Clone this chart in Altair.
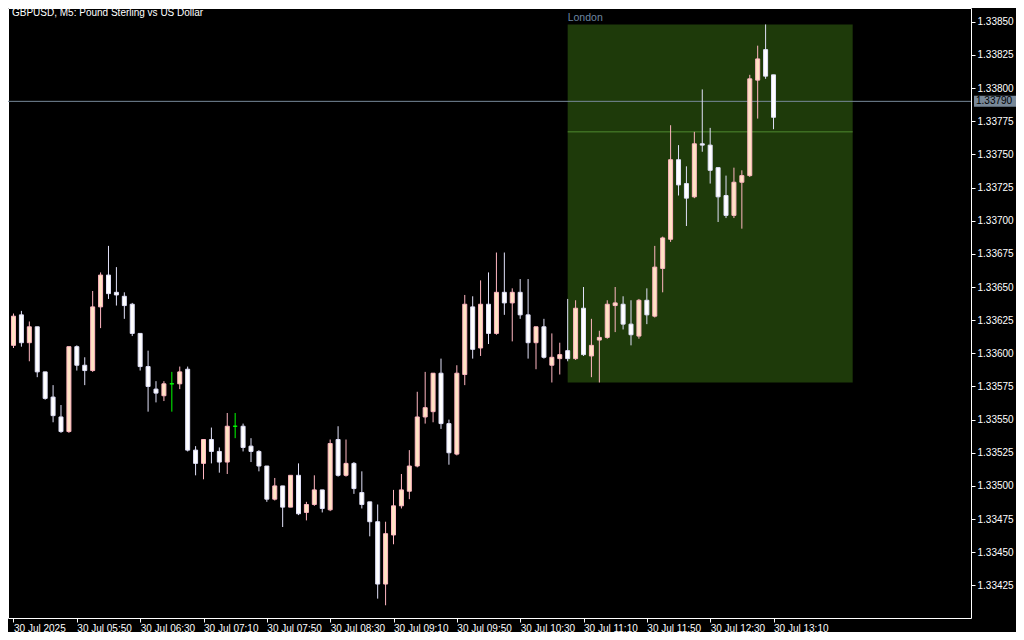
import altair as alt
import pandas as pd

# ---- data (GBPUSD M5, 30 Jul 2025, 05:10 .. 13:10) ----
open_ = [1.33606, 1.33629, 1.33608, 1.33620, 1.33586, 1.33567, 1.33552, 1.33541, 1.33605, 1.33591,
         1.33587, 1.33635, 1.33659, 1.33646, 1.33643, 1.33637, 1.33615, 1.33590, 1.33573, 1.33568,
         1.33577, 1.33577, 1.33588, 1.33527, 1.33517, 1.33535, 1.33526, 1.33518, 1.33545, 1.33545,
         1.33530, 1.33526, 1.33515, 1.33490, 1.33500, 1.33484, 1.33508, 1.33480, 1.33486, 1.33497,
         1.33482, 1.33535, 1.33508, 1.33517, 1.33495, 1.33488, 1.33473, 1.33426, 1.33463, 1.33485,
         1.33496, 1.33515, 1.33552, 1.33556, 1.33585, 1.33547, 1.33524, 1.33584, 1.33635, 1.33604,
         1.33637, 1.33615, 1.33646, 1.33638, 1.33646, 1.33629, 1.33608, 1.33620, 1.33591, 1.33596,
         1.33602, 1.33596, 1.33634, 1.33598, 1.33610, 1.33612, 1.33636, 1.33637, 1.33622, 1.33613,
         1.33640, 1.33628, 1.33664, 1.33686, 1.33746, 1.33728, 1.33718, 1.33758, 1.33757, 1.33740,
         1.33719, 1.33704, 1.33729, 1.33734, 1.33806, 1.33829, 1.33810]
high = [1.33630, 1.33632, 1.33624, 1.33620, 1.33586, 1.33576, 1.33561, 1.33605, 1.33606, 1.33597,
        1.33647, 1.33661, 1.33681, 1.33665, 1.33646, 1.33638, 1.33615, 1.33602, 1.33579, 1.33579,
        1.33586, 1.33590, 1.33590, 1.33530, 1.33535, 1.33544, 1.33529, 1.33555, 1.33555, 1.33547,
        1.33536, 1.33527, 1.33515, 1.33506, 1.33500, 1.33508, 1.33517, 1.33488, 1.33508, 1.33497,
        1.33535, 1.33545, 1.33535, 1.33518, 1.33511, 1.33488, 1.33486, 1.33473, 1.33497, 1.33509,
        1.33527, 1.33571, 1.33586, 1.33585, 1.33596, 1.33550, 1.33591, 1.33644, 1.33643, 1.33655,
        1.33661, 1.33676, 1.33676, 1.33649, 1.33656, 1.33656, 1.33620, 1.33626, 1.33615, 1.33608,
        1.33641, 1.33640, 1.33650, 1.33626, 1.33617, 1.33640, 1.33650, 1.33643, 1.33640, 1.33641,
        1.33649, 1.33681, 1.33688, 1.33772, 1.33757, 1.33741, 1.33767, 1.33799, 1.33770, 1.33740,
        1.33734, 1.33740, 1.33738, 1.33810, 1.33832, 1.33848, 1.33810]
low = [1.33604, 1.33605, 1.33594, 1.33582, 1.33565, 1.33548, 1.33540, 1.33540, 1.33587, 1.33576,
       1.33586, 1.33619, 1.33641, 1.33636, 1.33626, 1.33613, 1.33587, 1.33556, 1.33563, 1.33564,
       1.33556, 1.33573, 1.33526, 1.33508, 1.33505, 1.33517, 1.33510, 1.33509, 1.33536, 1.33526,
       1.33518, 1.33511, 1.33488, 1.33489, 1.33469, 1.33484, 1.33478, 1.33474, 1.33485, 1.33480,
       1.33481, 1.33507, 1.33507, 1.33494, 1.33483, 1.33462, 1.33415, 1.33410, 1.33456, 1.33483,
       1.33490, 1.33514, 1.33547, 1.33548, 1.33543, 1.33516, 1.33523, 1.33576, 1.33596, 1.33598,
       1.33607, 1.33614, 1.33629, 1.33609, 1.33626, 1.33596, 1.33588, 1.33596, 1.33578, 1.33584,
       1.33594, 1.33595, 1.33598, 1.33582, 1.33578, 1.33611, 1.33616, 1.33618, 1.33606, 1.33611,
       1.33622, 1.33627, 1.33646, 1.33684, 1.33719, 1.33696, 1.33717, 1.33752, 1.33728, 1.33699,
       1.33702, 1.33702, 1.33694, 1.33733, 1.33777, 1.33807, 1.33769]
close = [1.33628, 1.33608, 1.33620, 1.33586, 1.33566, 1.33553, 1.33541, 1.33605, 1.33591, 1.33587,
         1.33635, 1.33659, 1.33645, 1.33644, 1.33636, 1.33615, 1.33590, 1.33575, 1.33570, 1.33577,
         1.33577, 1.33586, 1.33527, 1.33517, 1.33535, 1.33526, 1.33518, 1.33545, 1.33545, 1.33529,
         1.33526, 1.33515, 1.33490, 1.33500, 1.33484, 1.33508, 1.33479, 1.33486, 1.33497, 1.33483,
         1.33532, 1.33508, 1.33517, 1.33498, 1.33486, 1.33473, 1.33426, 1.33464, 1.33485, 1.33497,
         1.33515, 1.33552, 1.33559, 1.33585, 1.33547, 1.33525, 1.33585, 1.33637, 1.33603, 1.33637,
         1.33615, 1.33646, 1.33638, 1.33646, 1.33629, 1.33608, 1.33620, 1.33597, 1.33597, 1.33599,
         1.33596, 1.33634, 1.33599, 1.33606, 1.33612, 1.33637, 1.33638, 1.33622, 1.33614, 1.33640,
         1.33629, 1.33665, 1.33687, 1.33746, 1.33727, 1.33717, 1.33758, 1.33757, 1.33738, 1.33718,
         1.33704, 1.33729, 1.33734, 1.33807, 1.33822, 1.33809, 1.33778]

x_tick_pos = [0, 8, 16, 24, 32, 40, 48, 56, 64, 72, 80, 88, 96]
x_tick_labels = ["30 Jul 2025", "30 Jul 05:50", "30 Jul 06:30", "30 Jul 07:10", "30 Jul 07:50",
                 "30 Jul 08:30", "30 Jul 09:10", "30 Jul 09:50", "30 Jul 10:30", "30 Jul 11:10",
                 "30 Jul 11:50", "30 Jul 12:30", "30 Jul 13:10"]
y_ticks = [1.33425, 1.33450, 1.33475, 1.33500, 1.33525, 1.33550, 1.33575, 1.33600, 1.33625,
           1.33650, 1.33675, 1.33700, 1.33725, 1.33750, 1.33775, 1.33800, 1.33825, 1.33850]

title_text = "GBPUSD, M5:  Pound Sterling vs US Dollar"
session_name = "London"
session_start = [70]    # bar index of 11:00
session_end = [106]     # bar index of 14:00
session_line = [1.33767]
price_now = [1.33790]

# ---- build tables ----
n = len(open_)
dirs = []
for o, c in zip(open_, close):
    dirs.append("up" if c > o else ("down" if c < o else "doji"))
df = pd.DataFrame({
    "i": list(range(n)), "open": open_, "high": high, "low": low, "close": close,
    "lo_body": [min(o, c) for o, c in zip(open_, close)],
    "hi_body": [max(o, c) for o, c in zip(open_, close)],
    "dir": dirs,
})
s0 = session_start[0]
sess = df[df["i"] >= s0]
df_box = pd.DataFrame({
    "i0": session_start, "i1": session_end,
    "lo": [sess["low"].min()], "hi": [sess["high"].max()],
    "mid": session_line, "name": [session_name],
})
df_price = pd.DataFrame({"p": price_now})
df_title = pd.DataFrame({"t": [title_text]})

FONT = "Liberation Sans"
FS = 10
W, H = 963, 610
xscale = alt.Scale(domain=[-0.0625, 120.3125], nice=False, zero=False)
yscale = alt.Scale(domain=[1.334004, 1.338604], nice=False, zero=False)

labels_js = "[" + ",".join("'" + s + "'" for s in x_tick_labels) + "]"
pos_js = "[" + ",".join(str(v) for v in x_tick_pos) + "]"

x_axis = alt.Axis(values=x_tick_pos, labelExpr=labels_js + "[indexof(" + pos_js + ", datum.value)]",
                  title=None, grid=False, domain=False, ticks=True, tickSize=4, tickColor="#FFFFFF",
                  labels=True, labelColor="#FFFFFF", labelAlign="left", labelBaseline="top",
                  labelFlush=False, labelPadding=1, labelFont=FONT, labelFontSize=FS,
                  labelOverlap=False)
y_axis = alt.Axis(orient="right", values=y_ticks, format=".5f", title=None, grid=False,
                  domain=False, ticks=True, tickSize=4, tickColor="#FFFFFF", labels=True,
                  labelColor="#FFFFFF", labelPadding=2, labelFont=FONT, labelFontSize=FS,
                  labelOverlap=False, labelFlush=False)


def X(field):
    return alt.X(field, type="quantitative", scale=xscale, axis=x_axis)


def Y(field):
    return alt.Y(field, type="quantitative", scale=yscale, axis=y_axis)


dom = ["up", "down", "doji"]
fill_scale = alt.Scale(domain=dom, range=["#FFE4C4", "#FFFFFF", "#00FF00"])
stroke_scale = alt.Scale(domain=dom, range=["#FFB6C1", "#E0E0F8", "#00FF00"])

box = alt.Chart(df_box).mark_rect(fill="#1E3A0A").encode(
    x=X("i0"), x2="i1:Q", y=Y("lo"), y2="hi:Q")
sess_line = alt.Chart(df_box).mark_rule(color="#4E8A30", strokeWidth=1).encode(
    x=X("i0"), x2="i1:Q", y=Y("mid"))
price_line = alt.Chart(df_price).mark_rule(color="#778899", strokeWidth=1).encode(
    y=Y("p"))

wicks = alt.Chart(df).mark_rule(strokeWidth=1, clip=True).encode(
    x=X("i"), y=Y("low"), y2="high:Q",
    stroke=alt.Stroke("dir:N", scale=stroke_scale, legend=None))
bodies = alt.Chart(df).mark_bar(size=4, strokeWidth=1, clip=True).encode(
    x=X("i"), y=Y("lo_body"), y2="hi_body:Q",
    fill=alt.Fill("dir:N", scale=fill_scale, legend=None),
    stroke=alt.Stroke("dir:N", scale=stroke_scale, legend=None))

sess_label = alt.Chart(df_box).mark_text(align="left", baseline="alphabetic", dy=-3,
                                         color="#6F87A0", font=FONT, fontSize=10.5).encode(
    x=X("i0"), y=Y("hi"), text="name:N")
title = alt.Chart(df_title).mark_text(align="left", baseline="top", color="white",
                                      font=FONT, fontSize=FS).encode(
    x=alt.value(4), y=alt.value(0), text="t:N")
price_tag = alt.Chart(df_price).mark_point(shape="M-1,-0.25H1V0.25H-1Z", size=1936, filled=True,
                                           color="#788898", opacity=1, strokeWidth=0).encode(
    x=alt.value(988), y=Y("p"))
price_text = alt.Chart(df_price).mark_text(align="left", baseline="middle", color="#000000",
                                           font=FONT, fontSize=FS).encode(
    x=alt.value(968), y=Y("p"), text=alt.Text("p:Q", format=".5f"))

chart = alt.layer(box, sess_line, price_line, wicks, bodies, sess_label, title,
                  price_tag, price_text).properties(
    width=W, height=H,
    padding={"left": 0, "top": 0, "right": 45, "bottom": 14},
    autosize=alt.AutoSizeParams(type="none"),
    background="#000000",
).configure_view(stroke="#FFFFFF", strokeWidth=1)

chart.save("out.html", embed_options={"renderer": "svg", "actions": False})
